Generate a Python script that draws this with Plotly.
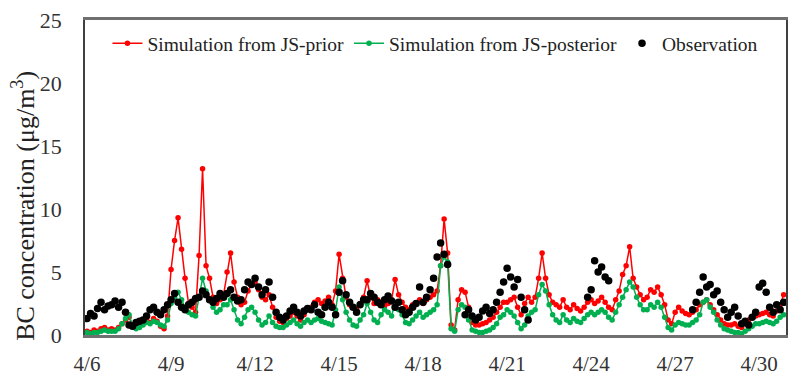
import pandas as pd
import plotly.graph_objects as go

# 3-hourly BC concentrations (ug/m3), 4/6 00:00 through 4/30 21:00
prior = [
    0.3, 0.2, 0.4, 0.3, 0.5, 0.6, 0.4, 0.5,   # 4/6
    0.4, 0.6, 0.9, 1.2, 1.4, 0.8, 0.6, 0.8,   # 4/7
    1.0, 1.2, 1.0, 1.3, 1.1, 0.7, 0.5, 1.5,   # 4/8
    5.2, 7.5, 9.3, 6.8, 4.5, 2.5, 2.2, 1.8,   # 4/9
    6.3, 13.2, 5.5, 4.5, 3.0, 2.5, 2.8, 3.2,  # 4/10
    5.0, 6.5, 4.2, 3.0, 2.4, 2.6, 3.5, 4.0,   # 4/11
    4.2, 3.6, 3.0, 2.8, 3.2, 2.2, 1.4, 1.1,   # 4/12
    1.0, 1.3, 1.5, 1.8, 1.5, 1.2, 1.6, 2.0,   # 4/13
    2.2, 2.6, 2.8, 2.5, 2.7, 3.0, 2.4, 3.5,   # 4/14
    6.4, 4.5, 3.0, 2.4, 2.2, 2.0, 2.5, 3.0,   # 4/15
    4.3, 3.0, 2.5, 2.8, 2.6, 2.3, 2.5, 2.8,   # 4/16
    4.4, 3.2, 2.6, 2.2, 2.0, 2.4, 2.5, 2.8,   # 4/17
    2.5, 2.8, 3.0, 3.2, 3.5, 5.5, 9.2, 6.5,   # 4/18
    0.8, 0.4, 2.8, 3.6, 3.4, 2.2, 1.0, 0.8,   # 4/19
    0.8, 0.9, 1.0, 1.2, 1.4, 1.8, 2.2, 2.6,   # 4/20
    2.6, 2.8, 3.0, 2.2, 1.6, 2.5, 3.0, 2.6,   # 4/21
    3.0, 4.5, 6.5, 4.5, 3.2, 2.6, 2.4, 2.2,   # 4/22
    2.8, 2.2, 2.0, 2.4, 2.1, 1.9, 2.2, 2.6,   # 4/23
    2.8, 2.5, 2.7, 3.0, 2.6, 2.2, 2.0, 2.8,   # 4/24
    3.5, 4.8, 5.5, 7.0, 4.5, 3.8, 3.2, 2.8,   # 4/25
    3.0, 3.6, 3.4, 3.8, 3.2, 2.4, 1.2, 0.9,   # 4/26
    1.8, 2.2, 1.9, 1.7, 1.6, 1.8, 2.0, 2.4,   # 4/27
    2.6, 2.8, 2.4, 2.0, 1.6, 1.2, 0.9, 0.8,   # 4/28
    0.8, 0.9, 0.7, 0.6, 0.9, 1.2, 1.4, 1.5,   # 4/29
    1.6, 1.7, 1.8, 1.6, 1.5, 1.9, 2.4, 3.2,   # 4/30
]

posterior = [
    0.2, 0.1, 0.2, 0.2, 0.3, 0.4, 0.3, 0.3,   # 4/6
    0.3, 0.5, 0.9, 1.3, 1.6, 0.7, 0.5, 0.6,   # 4/7
    0.8, 1.0, 0.9, 1.1, 1.0, 0.8, 0.7, 1.2,   # 4/8
    2.5, 3.0, 3.4, 2.8, 2.2, 1.8, 1.6, 1.5,   # 4/9
    3.0, 4.5, 3.5, 2.8, 2.2, 1.8, 2.0, 2.4,   # 4/10
    2.4, 2.8, 2.0, 1.2, 0.9, 1.4, 2.0, 2.2,   # 4/11
    1.8, 1.2, 0.8, 1.0, 1.5, 1.0, 0.7, 0.6,   # 4/12
    0.6, 0.8, 1.0, 1.2, 0.9, 0.7, 1.0, 1.2,   # 4/13
    1.0, 1.2, 1.3, 1.1, 1.0, 0.9, 0.8, 2.0,   # 4/14
    3.8, 2.8, 1.8, 1.2, 0.8, 0.7, 1.2, 1.6,   # 4/15
    2.5, 1.8, 1.2, 1.0, 1.6, 2.0, 1.8, 1.5,   # 4/16
    2.6, 2.0, 1.6, 1.0, 0.9, 1.2, 1.5, 1.8,   # 4/17
    1.4, 1.6, 1.8, 2.0, 2.4, 5.5, 6.2, 5.8,   # 4/18
    0.5, 0.3, 2.0, 2.4, 2.2, 1.2, 0.4, 0.3,   # 4/19
    0.2, 0.2, 0.3, 0.4, 0.6, 0.9, 1.4, 1.6,   # 4/20
    2.0, 1.8, 1.5, 1.0, 0.5, 0.8, 1.5, 1.8,   # 4/21
    2.0, 3.2, 4.0, 3.5, 2.4, 1.6, 1.2, 1.0,   # 4/22
    1.6, 1.2, 1.0, 1.3, 1.1, 1.0, 1.3, 1.6,   # 4/23
    1.8, 1.6, 1.8, 2.0, 1.8, 1.4, 1.2, 1.8,   # 4/24
    2.4, 3.0, 3.6, 4.2, 3.8, 3.0, 2.4, 2.0,   # 4/25
    2.0, 2.4, 2.2, 2.6, 2.2, 1.4, 0.6, 0.4,   # 4/26
    0.8, 1.0, 0.9, 0.8, 0.8, 1.0, 1.2, 1.6,   # 4/27
    2.6, 2.8, 2.2, 1.8, 1.2, 0.8, 0.5, 0.4,   # 4/28
    0.3, 0.2, 0.2, 0.1, 0.3, 0.5, 0.7, 0.9,   # 4/29
    0.9, 1.0, 1.1, 1.0, 0.9, 1.1, 1.4, 1.6,   # 4/30
]

N = None
observation = [
    1.3, 1.7, 1.5, 2.1, 2.6, 2.0, 2.3, 2.4,   # 4/6
    2.7, 2.2, 2.6, 1.8, 0.8, 0.7, 1.0, 1.1,   # 4/7
    1.2, 1.5, 2.0, 2.2, 1.8, 1.6, 2.0, 2.4,   # 4/8
    2.8, 3.3, 2.6, 2.2, 2.0, 2.4, 2.6, 2.9,   # 4/9
    3.0, 3.5, 3.2, 2.8, 2.6, 2.9, 3.3, 3.0,   # 4/10
    3.3, 3.6, 3.0, 2.7, 2.8, 3.6, 4.2, 4.0,   # 4/11
    4.5, 3.8, 3.2, 3.6, 4.2, 3.0, 1.8, 1.4,   # 4/12
    1.2, 1.5, 1.9, 2.2, 1.8, 1.5, 1.9, 2.1,   # 4/13
    2.0, 2.4, 1.8, 1.6, 2.2, 2.6, 2.2, 1.6,   # 4/14
    3.4, 4.3, 3.2, 2.6, 2.2, 1.8, 2.4, 2.8,   # 4/15
    2.8, 3.3, 3.0, 2.6, 2.4, 2.8, 3.1, 2.7,   # 4/16
    2.2, 2.6, 2.0, 1.6, 1.8, 2.2, 2.5, 3.8,   # 4/17
    2.6, 3.0, 3.6, 4.5, 6.2, 7.3, 6.4, 5.6,   # 4/18
    N, N, N, N, 1.6, 2.0, 1.5, 1.2,           # 4/19
    1.4, 1.9, 2.2, 1.7, 2.0, 2.6, 3.4, 4.2,   # 4/20
    5.3, 4.6, 3.8, 4.4, 3.0, 2.0, 1.2, N,     # 4/21
    N, N, N, N, N, N, N, N,                   # 4/22
    N, N, N, N, N, N, N, 3.0,                 # 4/23
    3.6, 5.9, 5.0, 5.4, 4.6, 4.3, N, N,       # 4/24
    N, N, N, N, N, N, N, N,                   # 4/25
    N, N, N, N, N, N, N, N,                   # 4/26
    N, N, N, N, N, 2.0, 2.6, 3.4,             # 4/27
    4.6, 3.8, 4.0, 3.2, 3.5, 2.6, 2.0, 1.4,   # 4/28
    1.8, 2.2, 1.5, 0.9, 1.1, 0.8, 1.4, 1.8,   # 4/29
    3.8, 4.1, 3.4, 2.2, 1.8, 2.4, 2.0, 2.6,   # 4/30
]

times = pd.date_range("2019-04-06 00:00", periods=len(prior), freq="3h")

tick_dates = pd.date_range("2019-04-06", "2019-04-30", freq="3D")
tick_text = [f"{d.month}/{d.day}" for d in tick_dates]

RED = "#FF0000"
GREEN = "#00B050"
SERIF = "Liberation Serif, Times New Roman, serif"

fig = go.Figure()
fig.add_trace(go.Scatter(
    x=times, y=prior, name="Simulation from JS-prior",
    mode="lines+markers",
    line=dict(color=RED, width=1.5),
    marker=dict(color=RED, size=5.5, symbol="circle"),
))
fig.add_trace(go.Scatter(
    x=times, y=posterior, name="Simulation from JS-posterior",
    mode="lines+markers",
    line=dict(color=GREEN, width=1.5),
    marker=dict(color=GREEN, size=5.5, symbol="circle"),
))
fig.add_trace(go.Scatter(
    x=times, y=observation, name="Observation",
    mode="markers",
    marker=dict(color="black", size=7.5, symbol="circle"),
))

fig.update_layout(
    width=791, height=383,
    margin=dict(l=85, r=3, t=20, b=48),
    paper_bgcolor="white", plot_bgcolor="white",
    font=dict(family=SERIF, size=20, color="#222222"),
    showlegend=True,
    legend=dict(
        orientation="h",
        x=0.032, y=0.925, xanchor="left", yanchor="middle",
        font=dict(family=SERIF, size=19.5, color="#222222"),
        bgcolor="rgba(255,255,255,0)",
        itemwidth=30,
        tracegroupgap=0,
    ),
    # y-axis title placed as rotated text left of the tick labels
    annotations=[dict(
        text="BC concentration (μg/m<sup>3</sup>)",
        textangle=-90, showarrow=False,
        xref="paper", yref="paper",
        x=-0.087, y=0.41, xanchor="center", yanchor="middle",
        font=dict(family=SERIF, size=26, color="#222222"),
    )],
)

# axes drawn as a closed box around the plotting area
fig.update_xaxes(
    range=["2019-04-05 22:15", "2019-04-30 23:00"],
    tickvals=tick_dates, ticktext=tick_text,
    tickfont=dict(family=SERIF, size=21, color="#333333"),
    showgrid=False, zeroline=False,
    showline=True, linecolor="#707070", linewidth=2.5,
    mirror="all", ticks="", ticklabelstandoff=8,
)
fig.update_yaxes(
    range=[0, 25], tickvals=[0, 5, 10, 15, 20, 25],
    tickfont=dict(family=SERIF, size=22, color="#333333"),
    showgrid=False, zeroline=False,
    showline=True, linecolor="#404040", linewidth=1.5,
    mirror="all", ticks="", ticklabelstandoff=17,
)

fig.write_html("out.html")
